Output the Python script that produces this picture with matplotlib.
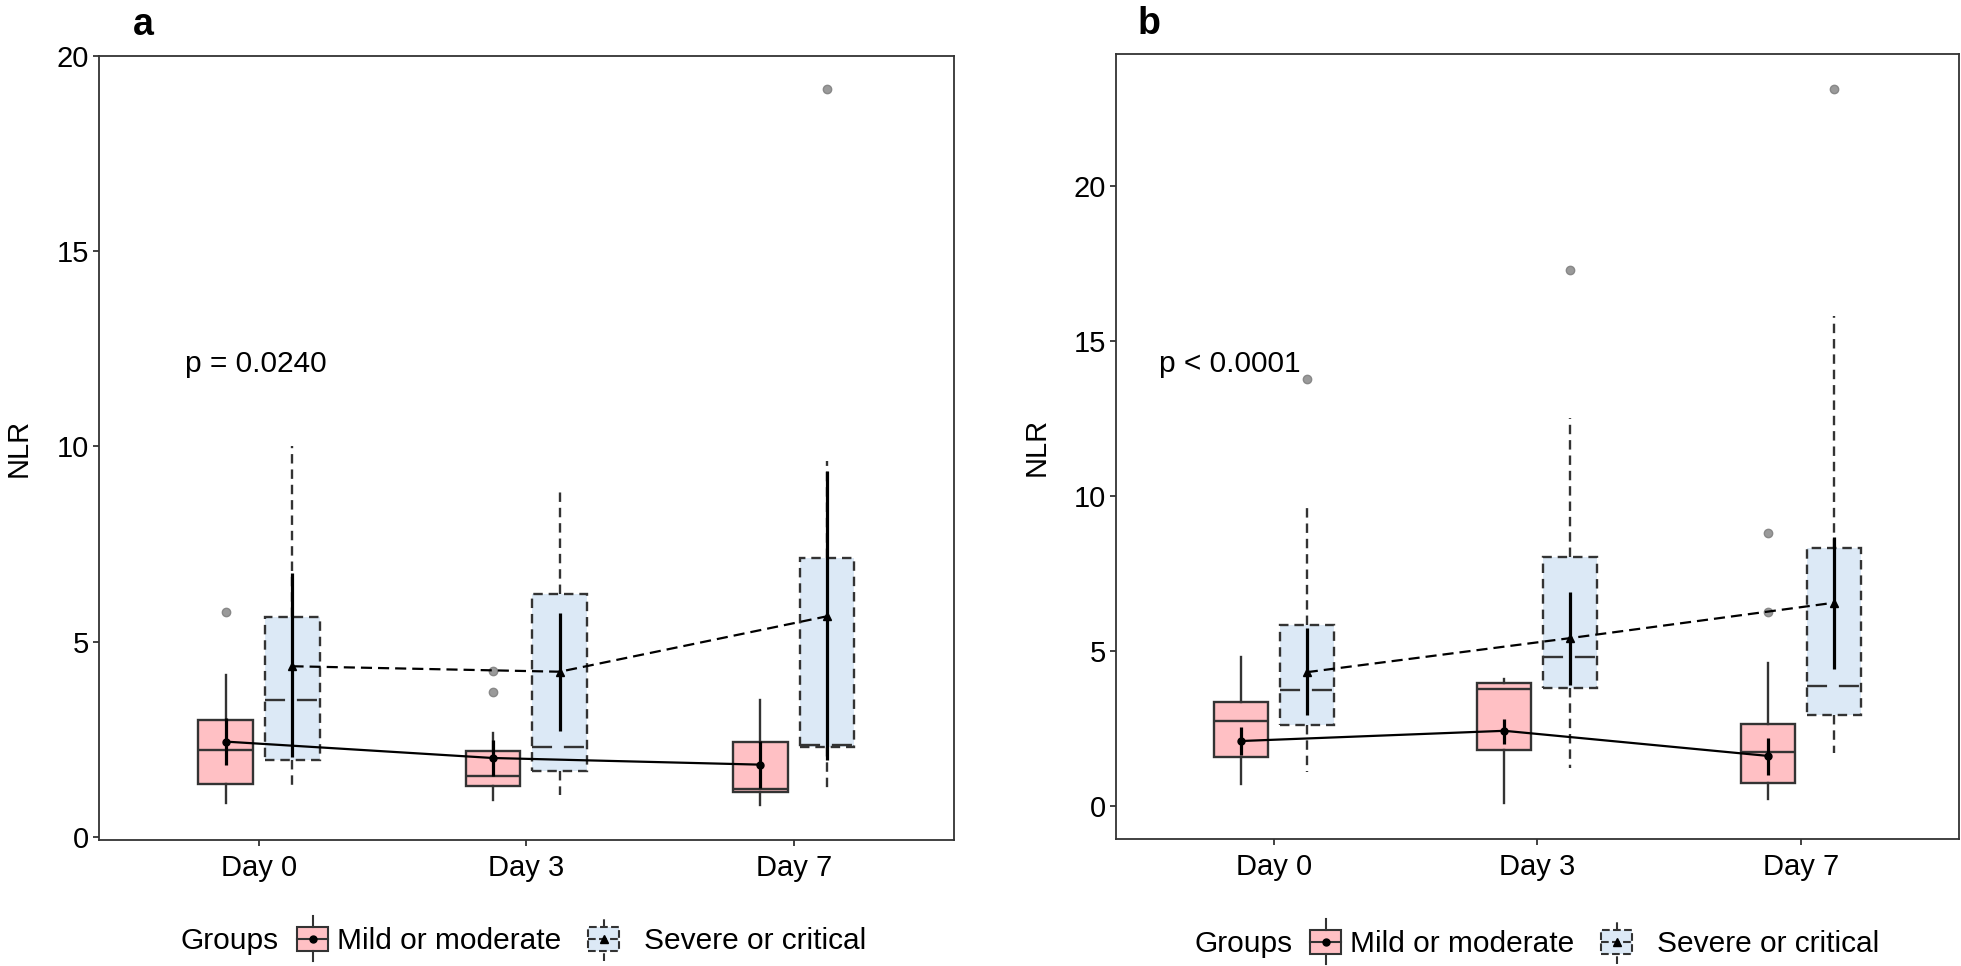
import matplotlib
matplotlib.use('Agg')
import matplotlib.pyplot as plt
from matplotlib.patches import Patch, Rectangle
from matplotlib.lines import Line2D
from matplotlib.legend_handler import HandlerBase
import numpy as np

plt.rcParams['font.family'] = ['Liberation Sans', 'DejaVu Sans']

days = ['Day 0', 'Day 3', 'Day 7']
group_labels = ['Mild or moderate', 'Severe or critical']

# ---------------- panel a ----------------
a_mild_med = [2.23, 1.55, 1.23]
a_mild_q1 = [1.36, 1.31, 1.16]
a_mild_q3 = [3.00, 2.20, 2.44]
a_mild_lo = [0.87, 0.95, 0.82]
a_mild_hi = [4.15, 2.67, 3.51]
a_mild_fliers = [[5.77], [4.24, 3.72], []]
a_mild_mean = [2.44, 2.02, 1.85]
a_mild_ci_lo = [1.84, 1.57, 1.25]
a_mild_ci_hi = [3.04, 2.47, 2.45]

a_sev_med = [3.51, 2.31, 2.36]
a_sev_q1 = [1.96, 1.69, 2.30]
a_sev_q3 = [5.62, 6.23, 7.15]
a_sev_lo = [1.26, 1.08, 1.13]
a_sev_hi = [10.0, 8.83, 9.62]
a_sev_fliers = [[], [], [19.15]]
a_sev_mean = [4.37, 4.23, 5.65]
a_sev_ci_lo = [2.05, 2.72, 1.97]
a_sev_ci_hi = [6.77, 5.74, 9.37]

# ---------------- panel b ----------------
b_mild_med = [2.77, 3.79, 1.75]
b_mild_q1 = [1.59, 1.82, 0.75]
b_mild_q3 = [3.38, 3.97, 2.65]
b_mild_lo = [0.72, 0.10, 0.23]
b_mild_hi = [4.83, 4.11, 4.62]
b_mild_fliers = [[], [], [8.81, 6.26]]
b_mild_mean = [2.11, 2.44, 1.63]
b_mild_ci_lo = [1.65, 2.02, 1.02]
b_mild_ci_hi = [2.57, 2.82, 2.20]

b_sev_med = [3.76, 4.83, 3.90]
b_sev_q1 = [2.63, 3.81, 2.95]
b_sev_q3 = [5.85, 8.04, 8.35]
b_sev_lo = [1.12, 1.23, 1.72]
b_sev_hi = [9.62, 12.52, 15.82]
b_sev_fliers = [[13.78], [17.31], [23.14]]
b_sev_mean = [4.33, 5.43, 6.57]
b_sev_ci_lo = [2.95, 3.92, 4.43]
b_sev_ci_hi = [5.75, 6.91, 8.70]

p_texts = ['p = 0.0240', 'p < 0.0001']
panel_letters = ['a', 'b']

PINK = '#FFC0C4'
BLUE = '#DCE9F6'
EDGE = '#333333'
GRAY = '#9a9a9a'
DASH = (0, (4, 2.5))
MDASH = (0, (5, 2.7))
MEDDASH = (0, (8.5, 5))
FS = 21.5


def make_stats(med, q1, q3, lo, hi, fl):
    return [dict(med=m, q1=a, q3=b, whislo=l, whishi=h, fliers=f)
            for m, a, b, l, h, f in zip(med, q1, q3, lo, hi, fl)]


def draw(ax, mild, sev, ylim, ptext, ptext_xy):
    x = np.arange(1, len(days) + 1)
    off = 0.125
    w = 0.205
    ax.bxp(make_stats(*mild[:6]), positions=x - off, widths=w, patch_artist=True,
           showcaps=False, manage_ticks=False,
           boxprops=dict(facecolor=PINK, edgecolor=EDGE, linewidth=1.7),
           whiskerprops=dict(color=EDGE, linewidth=1.7),
           medianprops=dict(color=EDGE, linewidth=1.7),
           flierprops=dict(marker='o', markerfacecolor=GRAY, markeredgecolor='#888888',
                           markersize=6, linestyle='none'))
    ax.bxp(make_stats(*sev[:6]), positions=x + off, widths=w, patch_artist=True,
           showcaps=False, manage_ticks=False,
           boxprops=dict(facecolor=BLUE, edgecolor=EDGE, linewidth=1.7, linestyle=DASH),
           whiskerprops=dict(color=EDGE, linewidth=1.7, linestyle=DASH),
           medianprops=dict(color=EDGE, linewidth=1.7, linestyle=MEDDASH),
           flierprops=dict(marker='o', markerfacecolor=GRAY, markeredgecolor='#888888',
                           markersize=6, linestyle='none'))
    ax.vlines(x - off, mild[7], mild[8], color='black', linewidth=2.3, zorder=5)
    ax.plot(x - off, mild[6], color='black', linewidth=1.6, marker='o', markersize=5, zorder=6)
    ax.vlines(x + off, sev[7], sev[8], color='black', linewidth=2.3, zorder=5)
    ax.plot(x + off, sev[6], color='black', linewidth=1.6, linestyle=MDASH,
            marker='^', markersize=5.5, zorder=6)

    ax.set_xlim(0.4, 3.6)
    ax.set_ylim(*ylim)
    ax.set_xticks(x)
    ax.set_xticklabels(days)
    ax.set_yticks([0, 5, 10, 15, 20])
    ax.tick_params(axis='y', length=4, width=1.3, color=EDGE, labelsize=21, pad=3)
    ax.tick_params(axis='x', length=4, width=1.3, color=EDGE, labelsize=21, pad=6)
    for s in ax.spines.values():
        s.set_color(EDGE)
        s.set_linewidth(1.3)
    ax.set_ylabel('NLR', fontsize=21)
    ax.yaxis.set_label_coords(-0.077, 0.5)
    ax.text(ptext_xy[0], ptext_xy[1], ptext, fontsize=21.5, va='center', ha='left',
            transform=ax.transAxes)


class BoxKeyHandler(HandlerBase):
    def __init__(self, face, ls, marker, ms):
        super().__init__()
        self.face, self.ls, self.marker, self.ms = face, ls, marker, ms

    def create_artists(self, legend, orig_handle, xdescent, ydescent, width, height,
                       fontsize, trans):
        x0, y0 = -xdescent, -ydescent
        xc = x0 + width / 2
        b0, b1 = y0, y0 + height
        ext = 0.45 * height
        return [Rectangle((x0, b0), width, b1 - b0, facecolor=self.face, edgecolor=EDGE,
                          linewidth=1.5, linestyle=self.ls, transform=trans),
                Line2D([xc, xc], [b1, b1 + ext], color=EDGE, lw=1.5,
                       linestyle=self.ls, transform=trans),
                Line2D([xc, xc], [b0 - ext, b0], color=EDGE, lw=1.5,
                       linestyle=self.ls, transform=trans),
                Line2D([x0, x0 + width], [y0 + 0.5 * height] * 2, color=EDGE, lw=1.5,
                       linestyle=self.ls, transform=trans),
                Line2D([xc], [y0 + 0.5 * height], color='black', marker=self.marker,
                       markersize=self.ms, linestyle='none', transform=trans)]


fig = plt.figure(figsize=(19.61, 9.66), dpi=100)
W, H = 1961, 966

axA = fig.add_axes([98.7 / W, 1 - 840 / H, (954 - 98.7) / W, (840 - 56) / H])
axB = fig.add_axes([1115.7 / W, 1 - 839 / H, (1959 - 1115.7) / W, (839 - 54) / H])

mildA = [a_mild_med, a_mild_q1, a_mild_q3, a_mild_lo, a_mild_hi, a_mild_fliers,
         a_mild_mean, a_mild_ci_lo, a_mild_ci_hi]
sevA = [a_sev_med, a_sev_q1, a_sev_q3, a_sev_lo, a_sev_hi, a_sev_fliers,
        a_sev_mean, a_sev_ci_lo, a_sev_ci_hi]
mildB = [b_mild_med, b_mild_q1, b_mild_q3, b_mild_lo, b_mild_hi, b_mild_fliers,
         b_mild_mean, b_mild_ci_lo, b_mild_ci_hi]
sevB = [b_sev_med, b_sev_q1, b_sev_q3, b_sev_lo, b_sev_hi, b_sev_fliers,
        b_sev_mean, b_sev_ci_lo, b_sev_ci_hi]

draw(axA, mildA, sevA, (-0.08, 20.0), p_texts[0],
     ((185 - 98.7) / (954 - 98.7), (840 - 364) / (840 - 56)))
draw(axB, mildB, sevB, (-1.05, 24.27), p_texts[1],
     ((1159 - 1115.7) / (1959 - 1115.7), (839 - 364) / (839 - 54)))

fig.text(143 / W, 1 - 25 / H, panel_letters[0], fontsize=27, fontweight='bold',
         ha='center', va='center')
fig.text(1149 / W, 1 - 24 / H, panel_letters[1], fontsize=27, fontweight='bold',
         ha='center', va='center')

# legends: one row per panel ("Groups" + two keys)
styles = [(PINK, '-', 'o', 5), (BLUE, '--', '^', 5.5)]
for gx, ly, key_x, pads in [(181, 941, (297, 588), (0.3, 0.84)),
                            (1195, 944, (1310, 1601), (0.3, 0.84))]:
    fig.text(gx / W, 1 - ly / H, 'Groups', fontsize=FS, ha='left', va='center')
    for kx, lab, st, pad in zip(key_x, group_labels, styles, pads):
        h = Patch(facecolor=st[0])
        fig.legend([h], [lab], loc='center left', bbox_to_anchor=(kx / W, 1 - ly / H),
                   frameon=False, prop=dict(size=FS), handlelength=1.04,
                   handleheight=0.84, handletextpad=pad, borderpad=0, borderaxespad=0,
                   handler_map={h: BoxKeyHandler(*st)})

fig.savefig('out.png', dpi=100)
